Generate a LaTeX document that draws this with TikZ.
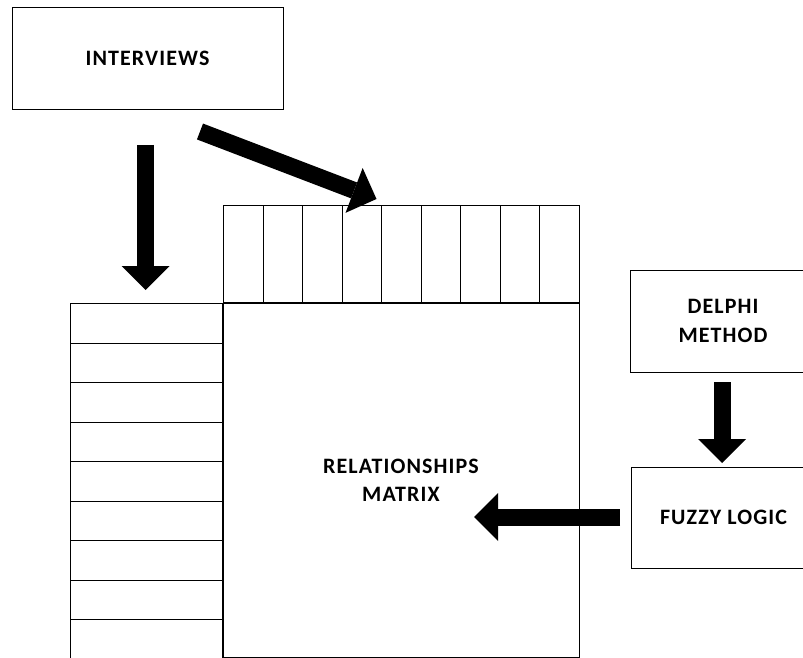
\documentclass[tikz,border=0pt]{standalone}
\usepackage{fontspec}
\setmainfont{Carlito}[LetterSpace=5]
\usetikzlibrary{arrows.meta}

\tikzset{
  box/.style={draw, line width=0.9pt, align=center, inner sep=0pt,
    font=\bfseries\fontsize{22}{28.3}\selectfont},
  cell/.style={draw, line width=0.9pt, inner sep=0pt},
  block/.style={line width=17pt, -{Triangle[width=48pt,length=24pt,line width=0pt]}}
}

\begin{document}
\begin{tikzpicture}[x=1pt,y=-1pt]
  \def\cw{39.56}
  \def\rh{39.5}
  \useasboundingbox (0,0) rectangle (803,658);
  \clip (0,0) rectangle (803,658);

  %Main boxes
  \node[box, minimum width=271pt, minimum height=102pt] (interviews) at (147.5,58) {INTERVIEWS};
  \node[box, minimum width=356pt, minimum height=354pt] (matrix) at (401,480) {RELATIONSHIPS\\MATRIX};
  \node[box, minimum width=186pt, minimum height=102pt] (delphi) at (723,321) {DELPHI\\METHOD};
  \node[box, minimum width=185pt, minimum height=101pt] (fuzzy) at (723.5,517.5) {FUZZY LOGIC};

  %Columns on top of the matrix
  \foreach \i in {1,...,9}
  {
    \node[cell, minimum width=\cw pt, minimum height=97pt, anchor=south west] (col\i) at (223+\i*\cw-\cw,303) {};
  }
  %Rows left of the matrix
  \foreach \i in {1,...,9}
  {
    \node[cell, minimum width=152pt, minimum height=\rh pt, anchor=north east] (row\i) at (223,303+\i*\rh-\rh) {};
  }

  %Block arrows
  \coordinate (intdown) at (145.5,145);
  \coordinate (rowin) at (145.5,290);
  \coordinate (intdiag) at (200,131.5);
  \coordinate (colin) at (376.5,199);
  \coordinate (delout) at (722,382);
  \coordinate (fuzin) at (722,463);
  \coordinate (fuzout) at (620,517);
  \coordinate (matin) at (474,517);
  \draw[block] (intdown) -- (rowin);
  \draw[block] (intdiag) -- (colin);
  \draw[block] (delout) -- (fuzin);
  \draw[block] (fuzout) -- (matin);
\end{tikzpicture}
\end{document}
